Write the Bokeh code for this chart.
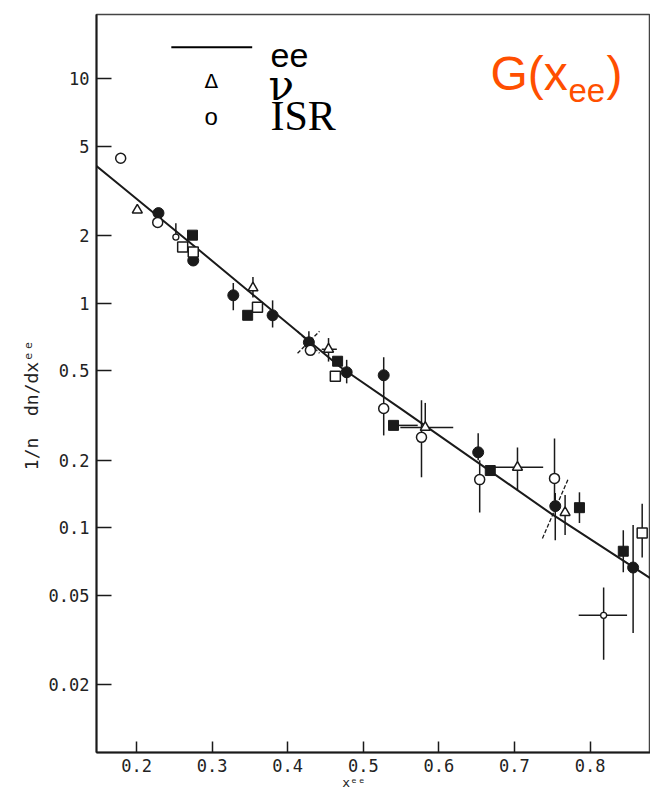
import math
from bokeh.plotting import figure
from bokeh.models import FixedTicker, Label
from bokeh.embed import file_html
from bokeh.resources import INLINE

nan = float("nan")

# ---- fitted ee curve ----
curve_x = [0.147, 0.170, 0.285, 0.470, 0.549, 0.748, 0.884, 0.901]
curve_y = [4.08, 3.53, 1.70, 0.519, 0.3405, 0.116, 0.0584, 0.0532]

# ---- filled circles ----
fc_x = [0.229, 0.275, 0.328, 0.380, 0.428, 0.478, 0.527, 0.652, 0.754, 0.857]
fc_y = [2.52, 1.55, 1.085, 0.884, 0.670, 0.493, 0.478, 0.217, 0.125, 0.0666]
fc_lo = [nan, nan, 0.93, 0.78, 0.60, 0.44, 0.397, 0.20, 0.088, 0.034]
fc_hi = [nan, nan, 1.23, 1.03, 0.75, 0.56, 0.575, 0.264, 0.143, 0.103]

# ---- open circles (ISR) ----
oc_x = [0.179, 0.228, 0.430, 0.527, 0.577, 0.654, 0.753]
oc_y = [4.42, 2.29, 0.617, 0.340, 0.253, 0.164, 0.166]
oc_lo = [nan, nan, nan, 0.258, 0.168, 0.117, 0.133]
oc_hi = [nan, nan, nan, 0.40, 0.37, 0.20, 0.25]

# ---- small open circles ----
osc_x = [0.252, 0.818]
osc_y = [1.97, 0.0408]
osc_lo = [1.97, 0.0259]
osc_hi = [2.27, 0.0543]
osc_xlo = [nan, 0.785]
osc_xhi = [nan, 0.849]

# ---- filled squares ----
fs_x = [0.274, 0.347, 0.466, 0.540, 0.668, 0.786, 0.844]
fs_y = [2.01, 0.884, 0.552, 0.286, 0.180, 0.123, 0.0787]
fs_lo = [nan, nan, nan, nan, nan, 0.105, 0.0635]
fs_hi = [nan, nan, nan, nan, nan, 0.144, 0.0975]
fs_xlo = [nan, nan, nan, 0.540, nan, nan, nan]
fs_xhi = [nan, nan, nan, 0.572, nan, nan, nan]

# ---- open squares ----
os_x = [0.261, 0.275, 0.360, 0.463, 0.869]
os_y = [1.78, 1.69, 0.96, 0.473, 0.095]
os_lo = [nan, nan, nan, nan, 0.0738]
os_hi = [nan, nan, nan, nan, 0.128]

# ---- open triangles (nu) ----
ot_x = [0.201, 0.354, 0.454, 0.582, 0.704, 0.767]
ot_y = [2.60, 1.17, 0.624, 0.280, 0.186, 0.117]
ot_lo = [nan, 1.06, 0.55, 0.280, 0.147, 0.093]
ot_hi = [nan, 1.31, 0.70, 0.36, 0.228, 0.14]
ot_xlo = [nan, nan, 0.445, 0.549, 0.668, nan]
ot_xhi = [nan, nan, 0.465, 0.619, 0.738, nan]

# ---- slanted (dashed) error bars ----
diag_x0 = [0.413, 0.413, 0.737]
diag_y0 = [0.750, 0.599, 0.0897]
diag_x1 = [0.442, 0.442, 0.7714]
diag_y1 = [0.599, 0.750, 0.166]

# ---- axis ticks ----
y_ticks = [0.02, 0.05, 0.1, 0.2, 0.5, 1, 2, 5, 10]
y_tick_labels = ["0.02", "0.05", "0.1", "0.2", "0.5", "1", "2", "5", "10"]
x_ticks = [0.2, 0.3, 0.4, 0.5, 0.6, 0.7, 0.8]
x_tick_labels = ["0.2", "0.3", "0.4", "0.5", "0.6", "0.7", "0.8"]

INK = "#1a1a1a"
MONO = "DejaVu Sans Mono"
NB = "\u00a0"

p = figure(width=650, height=792, x_range=(0.147, 0.880), y_range=(0.01, 19.3),
           y_axis_type="log", output_backend="svg", toolbar_location=None,
           min_border_left=96, min_border_right=0, min_border_top=14,
           min_border_bottom=39)
p.background_fill_color = "white"
p.border_fill_color = "white"
p.outline_line_color = "#444444"
p.outline_line_width = 1.5
p.grid.visible = False

for ax in (p.xaxis[0], p.yaxis[0]):
    ax.axis_line_color = INK
    ax.axis_line_width = 2
    ax.major_tick_line_color = INK
    ax.major_tick_line_width = 1.5
    ax.minor_tick_line_color = None
    ax.major_tick_out = 0
    ax.major_label_text_font = MONO
    ax.major_label_text_font_size = "17px"
    ax.major_label_text_color = "#222222"

p.yaxis.ticker = FixedTicker(ticks=y_ticks)
p.yaxis.major_label_overrides = {t: l for t, l in zip(y_ticks, y_tick_labels)}
p.yaxis.major_tick_in = 15
p.yaxis.major_label_standoff = 7
p.yaxis.axis_label = "1/n" + NB * 2 + "dn/dx\u1d49\u1d49" + NB * 4
p.yaxis.axis_label_text_font = MONO
p.yaxis.axis_label_text_font_size = "18px"
p.yaxis.axis_label_text_font_style = "normal"
p.yaxis.axis_label_text_color = "#222222"
p.yaxis.axis_label_standoff = 4

p.xaxis.ticker = FixedTicker(ticks=x_ticks)
p.xaxis.major_label_overrides = {t: l for t, l in zip(x_ticks, x_tick_labels)}
p.xaxis.major_tick_in = 11
p.xaxis.major_label_standoff = 6
p.xaxis.axis_label = "x\u1d49\u1d49" + NB * 5
p.xaxis.axis_label_text_font = MONO
p.xaxis.axis_label_text_font_size = "13px"
p.xaxis.axis_label_text_font_style = "normal"
p.xaxis.axis_label_text_color = "#222222"
p.xaxis.axis_label_standoff = 0

# curve
p.line(curve_x, curve_y, line_color=INK, line_width=2)

# error bars
def vbars(xs, lo, hi):
    p.segment(x0=xs, y0=lo, x1=xs, y1=hi, line_color=INK, line_width=1.5)

def hbars(ys, lo, hi):
    p.segment(x0=lo, y0=ys, x1=hi, y1=ys, line_color=INK, line_width=1.5)

vbars(fc_x, fc_lo, fc_hi)
vbars(oc_x, oc_lo, oc_hi)
vbars(osc_x, osc_lo, osc_hi)
hbars(osc_y, osc_xlo, osc_xhi)
vbars(fs_x, fs_lo, fs_hi)
hbars(fs_y, fs_xlo, fs_xhi)
vbars(os_x, os_lo, os_hi)
vbars(ot_x, ot_lo, ot_hi)
hbars(ot_y, ot_xlo, ot_xhi)
p.segment(x0=diag_x0, y0=diag_y0, x1=diag_x1, y1=diag_y1,
          line_color=INK, line_width=1.3, line_dash="4 2")

# markers
p.scatter(fc_x, fc_y, marker="circle", size=11, fill_color=INK, line_color=INK)
p.scatter(fs_x, fs_y, marker="square", size=10, fill_color=INK, line_color=INK)
p.scatter(oc_x, oc_y, marker="circle", size=10, fill_color="white",
          line_color=INK, line_width=1.5)
p.scatter(osc_x, osc_y, marker="circle", size=6, fill_color="white",
          line_color=INK, line_width=1.3)
p.scatter(os_x, os_y, marker="square", size=10, fill_color="white",
          line_color=INK, line_width=1.5)
p.scatter(ot_x, ot_y, marker="triangle", size=10, fill_color="white",
          line_color=INK, line_width=1.5)

# legend (hand-drawn as in the original)
p.line([0.246, 0.353], [13.8, 13.8], line_color="black", line_width=2)

def lab(x, y, text, font, size, color="black"):
    p.add_layout(Label(x=x, y=y, text=text, text_font=font,
                       text_font_size=size, text_color=color,
                       text_baseline="alphabetic", text_align="left"))

lab(0.3772, 12.67, "ee", "Liberation Sans", "34px")
lab(0.290, 9.79, "\u0394", "DejaVu Sans", "20px")
lab(0.3746, 9.31, "\u03bd", "DejaVu Serif", "42px")
lab(0.290, 6.80, "o", "Liberation Sans", "24px")
lab(0.3772, 6.84, "ISR", "Liberation Serif", "42px")

# G(x_ee) annotation
ORANGE = "#FF4F00"
lab(0.6683, 10.56, "G(x", "Liberation Sans", "48px", ORANGE)
lab(0.7714, 8.82, "ee", "Liberation Sans", "33px", ORANGE)
lab(0.8217, 10.56, ")", "Liberation Sans", "48px", ORANGE)

open("out.html", "w").write(file_html(p, INLINE))
